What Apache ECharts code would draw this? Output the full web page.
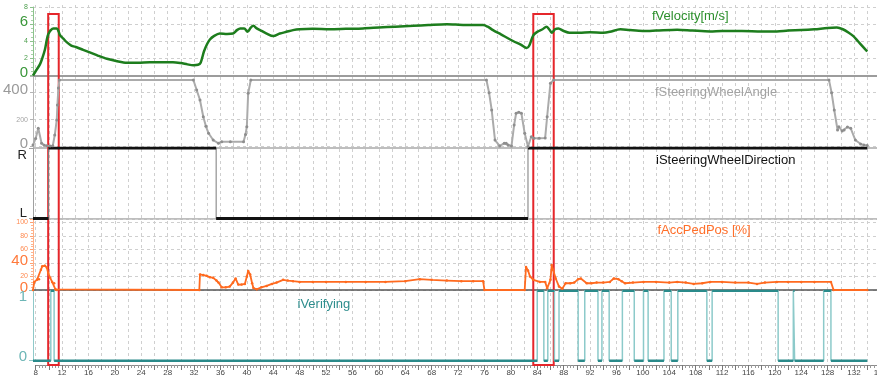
<!DOCTYPE html>
<html>
<head>
<meta charset="utf-8">
<script src="https://cdn.jsdelivr.net/npm/echarts@6/dist/echarts.min.js"></script>
<style>
  html, body { margin: 0; padding: 0; background: #fff; }
  #chart { width: 877px; height: 380px; }
</style>
</head>
<body>
<div id="chart"></div>
<script>
// ---- signal data (time in s) ----
const velT = [7.6, 8.0, 8.65, 9.0, 9.4, 9.7, 9.9, 10.3, 10.7, 11.2, 11.5, 11.7, 12.2, 12.7, 13.4, 14.2, 15.2, 16.2, 17.5, 18.8, 20.2, 21.8, 23.5, 25.3, 27, 28.8, 30, 31, 31.9, 32.6, 33.0, 33.5, 34.0, 34.4, 35.0, 35.9, 37, 37.9, 38.5, 39.0, 39.6, 40.1, 40.6, 41.0, 41.5, 42.0, 43, 44, 45, 46, 47, 48, 50, 52.6, 55, 57.6, 60, 62.5, 65.2, 67.5, 70.3, 73, 75.8, 76.5, 77.3, 78.5, 80.4, 81.5, 82.4, 82.8, 83.4, 84, 84.8, 85.4, 85.8, 86.2, 86.7, 87.2, 88, 88.9, 90.4, 92, 94, 95, 96.6, 98, 100, 102, 105.2, 107.5, 110.2, 112, 115, 118, 120.3, 122, 124, 126, 128, 129.4, 130.3, 131.2, 131.9, 132.6, 133.3, 134];
const velV = [0, 0.5, 1.3, 2.0, 3.0, 4.2, 4.8, 5.3, 5.5, 5.5, 5.1, 4.7, 4.3, 3.9, 3.5, 3.3, 3.0, 2.7, 2.3, 1.95, 1.7, 1.5, 1.5, 1.55, 1.55, 1.55, 1.45, 1.3, 1.2, 1.25, 1.5, 2.8, 3.7, 4.2, 4.6, 4.9, 4.85, 4.9, 5.3, 5.5, 5.5, 5.1, 5.6, 5.8, 5.5, 5.3, 4.9, 4.6, 4.9, 5.1, 5.3, 5.4, 5.45, 5.4, 5.45, 5.5, 5.6, 5.7, 5.8, 5.9, 6.0, 5.9, 5.9, 5.7, 5.3, 4.8, 4.0, 3.6, 3.2, 3.5, 4.7, 5.1, 5.4, 5.7, 5.4, 5.0, 5.4, 5.5, 5.2, 5.0, 5.0, 5.05, 5.0, 5.1, 5.4, 5.3, 5.2, 5.25, 5.35, 5.25, 5.15, 5.2, 5.2, 5.15, 5.15, 5.25, 5.3, 5.4, 5.55, 5.6, 5.4, 5.0, 4.6, 4.0, 3.4, 2.8];

const angT = [7.6, 8.0, 8.4, 8.9, 9.3, 9.7, 10.2, 10.6, 10.9, 11.2, 11.3, 11.45, 11.6, 31.9, 32.4, 32.9, 33.4, 33.8, 34.2, 34.9, 35.7, 36.2, 37.5, 39.5, 39.8, 40.0, 40.2, 40.6, 76.3, 76.7, 77.1, 77.6, 78.3, 79.0, 79.3, 79.6, 80.1, 80.5, 80.8, 81.2, 81.6, 82.1, 82.6, 83.1, 83.5, 84.3, 85.2, 85.5, 86.0, 86.5, 128.2, 128.6, 129.0, 129.5, 129.7, 130.2, 130.5, 131.0, 131.5, 132.2, 133.0, 133.5, 134.0];
const angV = [11, 60, 135, 24, 10, 6, 4, 6, 85, 197, 308, 435, 494, 494, 420, 345, 221, 150, 98, 48, 24, 36, 36, 36, 90, 147, 395, 494, 494, 400, 271, 48, 4, 24, 24, 11, 4, 160, 247, 255, 247, 98, 0, 73, 61, 62, 64, 221, 470, 494, 494, 400, 271, 123, 147, 115, 123, 145, 135, 48, 19, 11, 7];

// steering direction: 0 = L, 1 = R (value held until the next change)
const dirT = [7.6, 9.95, 35.35, 82.6, 134.0];
const dirV = [0, 1, 0, 1, 1];
const dirLabels = ['L', 'R'];

const accT = [7.6, 7.8, 8.2, 8.5, 8.8, 9.0, 9.4, 9.7, 9.9, 10.2, 10.5, 10.8, 11.0, 11.2, 32.8, 32.9, 33.4, 33.9, 34.4, 34.9, 35.4, 35.7, 36.2, 36.8, 37.4, 37.9, 38.3, 38.7, 39.2, 39.7, 40.0, 40.2, 40.5, 40.8, 41.0, 41.5, 42.2, 43.0, 43.8, 44.5, 45.5, 46.2, 47.0, 48.0, 50, 52, 55, 58, 61, 64, 66.2, 68, 70.3, 72.5, 74.3, 75.8, 76.0, 82.1, 82.3, 82.6, 82.9, 83.4, 84.4, 85.2, 85.5, 86.0, 86.2, 86.4, 86.8, 87.3, 87.8, 88.3, 89.0, 89.6, 90.2, 90.6, 91.5, 92.2, 93, 94, 95, 95.6, 96.3, 96.8, 97.3, 98.5, 100.1, 102, 104, 105.2, 106.5, 107.7, 109, 110.2, 112, 114, 116, 117.3, 118.5, 120.3, 122, 124, 126, 128.5, 128.9, 134];
const accV = [0, 12, 15, 16, 30, 35, 36, 33, 25, 18, 12, 10, 1, 0, 0, 23, 22, 21, 19, 18, 14, 11, 4, 4, 5, 11, 17, 8, 8, 9, 20, 28, 23, 10, 3, 1, 4, 6, 9, 11, 15, 14, 13, 12, 12, 12, 12, 12, 12, 13, 16, 15, 14, 13, 13, 13, 0, 0, 34, 29, 20, 15, 12, 12, 2.5, 15, 37, 30, 17, 5, 2, 10, 10, 11, 16, 17, 10, 10, 11, 11, 12, 17, 16, 13, 10, 11, 12, 12, 11, 12, 11, 9, 10, 12, 12, 11, 11, 9, 11, 12, 12, 12, 12, 12, 0, 0];

// verification flag: change points, value held until the next one
const verT = [7.6, 10.3, 10.8, 84.0, 85.0, 85.6, 86.6, 87.3, 90.2, 91.2, 93.2, 93.8, 94.9, 96.9, 98.7, 100.1, 100.8, 103.2, 104.3, 105.3, 109.7, 110.5, 120.5, 122.8, 123.0, 127.4, 128.5, 134.0];
const verV = [0, 1, 0, 1, 0, 1, 0, 1, 0, 1, 0, 1, 0, 1, 0, 1, 0, 1, 0, 1, 0, 1, 0, 1, 0, 1, 0, 0];

// highlighted time windows
const highlightWindows = [[9.9, 11.5], [83.4, 86.5]];

// ---- helpers ----
const zip = (xs, ys) => xs.map((x, i) => [x, ys[i]]);
// horizontal runs only, broken by empty points
function levelRuns(ts, vs) {
  const out = [];
  for (let i = 0; i < ts.length - 1; i++) {
    out.push([ts[i], vs[i]], [ts[i + 1], vs[i]], [ts[i + 1], null]);
  }
  return out;
}

const FONT = 'Liberation Sans, Arial, sans-serif';
const X_MIN = 7.6, X_MAX = 136.54;
const PLOT_LEFT = 33, PLOT_W = 851;
const PX_PER_S = PLOT_W / (X_MAX - X_MIN);
const dashed = { show: true, lineStyle: { color: '#cfcfcf', type: [3, 3], width: 1 } };

const panels = [
  { top: 7, height: 68.5 },     // velocity
  { top: 76.5, height: 70 },    // steering angle
  { top: 148, height: 70.5 },   // steering direction
  { top: 219, height: 71 },     // accelerator pedal
  { top: 290.7, height: 70 }    // verifying
];

const grids = panels.map(p => ({ left: PLOT_LEFT, width: PLOT_W, top: p.top, height: p.height, outerBoundsMode: 'none', containLabel: false }));
grids.push({ left: PLOT_LEFT + (8 - X_MIN) * PX_PER_S, width: 128 * PX_PER_S, top: 5, height: 360, outerBoundsMode: 'none', containLabel: false });

function hiddenX(i) {
  return { type: 'value', gridIndex: i, min: X_MIN, max: X_MAX, show: false };
}
const xAxes = [0, 1, 2, 3, 4].map(hiddenX);
// panel bottom borders
xAxes[0] = { type: 'value', gridIndex: 0, min: X_MIN, max: X_MAX, axisLabel: { show: false }, axisTick: { show: false }, splitLine: { show: false }, axisLine: { lineStyle: { color: '#9c9c9c', width: 2 } } };
xAxes[3] = { type: 'value', gridIndex: 3, min: X_MIN, max: X_MAX, axisLabel: { show: false }, axisTick: { show: false }, splitLine: { show: false }, axisLine: { lineStyle: { color: '#555', width: 1.5 } } };
// shared time axis
xAxes.push({
  type: 'value', gridIndex: 5, min: 8, max: 136, interval: 2,
  axisLine: { lineStyle: { color: '#8a8a8a', width: 1 } },
  axisTick: { length: 5, lineStyle: { color: '#777' } },
  minorTick: { show: true, splitNumber: 4, length: 3, lineStyle: { color: '#999' } },
  axisLabel: { fontSize: 8, color: '#444', margin: 4, fontFamily: FONT, hideOverlap: false,
    formatter: v => (Math.round(v) % 4 === 0 ? String(Math.round(v)) : '') },
  splitLine: dashed
});

function bigSmall(color, colorSmall, bigSet) {
  return {
    margin: 5, fontFamily: FONT,
    formatter: v => bigSet.has(v) ? '{b|' + v + '}' : '{s|' + v + '}',
    rich: {
      b: { fontSize: 15, color: color, padding: [0, 0, 5, 0], fontFamily: FONT },
      s: { fontSize: 7, color: colorSmall, fontFamily: FONT }
    }
  };
}

const yAxes = [
  {
    type: 'value', gridIndex: 0, min: 0, max: 8, interval: 2,
    axisLine: { show: true, lineStyle: { color: '#8cc28c' } },
    axisTick: { show: true, length: 3, lineStyle: { color: '#8cc28c' } },
    minorTick: { show: true, splitNumber: 4, length: 2, lineStyle: { color: '#a8d2a8' } },
    axisLabel: bigSmall('#3a973a', '#4d9f4d', new Set([0, 6])),
    splitLine: dashed
  },
  {
    type: 'value', gridIndex: 1, min: 0, max: 520, interval: 200,
    axisLine: { show: true, lineStyle: { color: '#b5b5b5' } },
    axisTick: { show: true, length: 3, lineStyle: { color: '#b5b5b5' } },
    axisLabel: Object.assign(bigSmall('#9a9a9a', '#a5a5a5', new Set([0, 400])), {
      formatter: v => v === 0 || v === 400 ? '{b|' + v + '}' : (v === 200 ? '{s|' + v + '}' : '')
    }),
    splitLine: dashed
  },
  {
    type: 'value', gridIndex: 2, min: 0, max: 1, interval: 1,
    axisLine: { show: true, lineStyle: { color: '#a0a0a0' } },
    axisTick: { show: true, length: 4, lineStyle: { color: '#a0a0a0' } },
    axisLabel: {
      margin: 6, fontFamily: FONT,
      formatter: v => v === 1 ? '{r|' + dirLabels[1] + '}' : '{l|' + dirLabels[0] + '}',
      rich: {
        r: { fontSize: 13, color: '#222', padding: [14, 0, 0, 0], fontFamily: FONT },
        l: { fontSize: 13, color: '#222', padding: [0, 0, 10, 0], fontFamily: FONT }
      }
    },
    splitLine: { show: true, lineStyle: { color: '#a8a8a8', width: 1.5 } }
  },
  {
    type: 'value', gridIndex: 3, min: 0, max: 105, interval: 20,
    axisLine: { show: true, lineStyle: { color: '#ffb088' } },
    axisTick: { show: true, length: 3, lineStyle: { color: '#ffa070' } },
    minorTick: { show: true, splitNumber: 5, length: 2, lineStyle: { color: '#ffb590' } },
    axisLabel: Object.assign(bigSmall('#ff7a3c', '#ff8a50', new Set([0, 40])), {
      formatter: v => v % 20 !== 0 ? '' : (v === 0 || v === 40 ? '{b|' + v + '}' : '{s|' + v + '}')
    }),
    splitLine: dashed
  },
  {
    type: 'value', gridIndex: 4, min: 0, max: 1, interval: 1,
    axisLine: { show: true, lineStyle: { color: '#8fc9c9' } },
    axisTick: { show: true, length: 4, lineStyle: { color: '#8fc9c9' } },
    axisLabel: {
      margin: 6, fontFamily: FONT,
      formatter: v => v === 1 ? '{t|1}' : '{z|0}',
      rich: {
        t: { fontSize: 15, color: '#6db6b6', padding: [12, 0, 0, 0], fontFamily: FONT },
        z: { fontSize: 15, color: '#6db6b6', padding: [0, 0, 8, 0], fontFamily: FONT }
      }
    },
    splitLine: { show: false }
  },
  { type: 'value', gridIndex: 5, min: 0, max: 1, show: false }
];

const series = [
  {
    name: 'fVelocity[m/s]', type: 'line', xAxisIndex: 0, yAxisIndex: 0,
    data: zip(velT, velV), showSymbol: false, smooth: 0.3,
    lineStyle: { color: '#1d7d1d', width: 2.5 }, z: 5
  },
  {
    name: 'fSteeringWheelAngle', type: 'line', xAxisIndex: 1, yAxisIndex: 1,
    data: zip(angT, angV), symbol: 'circle', symbolSize: 3, showSymbol: true,
    lineStyle: { color: '#ababab', width: 2 }, itemStyle: { color: '#8e8e8e' }, z: 5
  },
  {
    name: 'iSteeringWheelDirection', type: 'line', xAxisIndex: 2, yAxisIndex: 2,
    data: zip(dirT, dirV), step: 'end', showSymbol: false,
    lineStyle: { color: '#7a7a7a', width: 1 }, z: 4
  },
  {
    name: 'iSteeringWheelDirection-level', type: 'line', xAxisIndex: 2, yAxisIndex: 2,
    data: levelRuns(dirT, dirV), showSymbol: false, connectNulls: false,
    lineStyle: { color: '#111', width: 3 }, z: 5
  },
  {
    name: 'fAccPedPos [%]', type: 'line', xAxisIndex: 3, yAxisIndex: 3,
    data: zip(accT, accV), symbol: 'circle', symbolSize: 2.5, showSymbol: true,
    lineStyle: { color: '#ff6a1f', width: 1.8 }, itemStyle: { color: '#ff6a1f' }, z: 5
  },
  {
    name: 'iVerifying', type: 'line', xAxisIndex: 4, yAxisIndex: 4,
    data: zip(verT, verV), step: 'end', showSymbol: false,
    lineStyle: { color: '#8ccaca', width: 1.5 }, z: 4
  },
  {
    name: 'iVerifying-level', type: 'line', xAxisIndex: 4, yAxisIndex: 4,
    data: levelRuns(verT, verV), showSymbol: false, connectNulls: false,
    lineStyle: { color: '#2a8a8a', width: 2.5 }, z: 5
  },
  {
    name: 'windows', type: 'line', xAxisIndex: 5, yAxisIndex: 5, data: [], z: 20,
    markArea: {
      silent: true,
      itemStyle: { color: 'rgba(0,0,0,0)', borderColor: '#e5262b', borderWidth: 2 },
      label: { show: false },
      data: highlightWindows.map(w => [{ coord: [w[0], 0] }, { coord: [w[1], 0.975] }])
    }
  }
];

const titles = [
  { text: 'fVelocity[m/s]', x: 652, y: 16.7, color: '#2b8f2b' },
  { text: 'fSteeringWheelAngle', x: 655, y: 92.7, color: '#a3a3a3' },
  { text: 'iSteeringWheelDirection', x: 656, y: 160.7, color: '#111' },
  { text: 'fAccPedPos [%]', x: 657.5, y: 230, color: '#ff6f2a' },
  { text: 'iVerifying', x: 297.5, y: 304, color: '#2e8d8d' }
];

const chart = echarts.init(document.getElementById('chart'), null, { renderer: 'canvas' });
chart.setOption({
  animation: false,
  backgroundColor: '#fff',
  grid: grids,
  xAxis: xAxes,
  yAxis: yAxes,
  series: series,
  graphic: titles.map(t => ({
    type: 'text', x: t.x, y: t.y, z: 30,
    style: { text: t.text, fill: t.color, font: '13px ' + FONT, textVerticalAlign: 'middle' }
  }))
});
</script>
</body>
</html>
